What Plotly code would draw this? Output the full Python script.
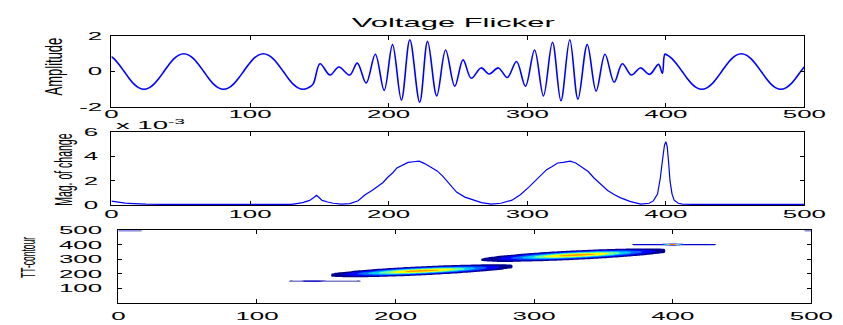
import numpy as np
import plotly.graph_objects as go

W, H = 843, 325

# ---------------- data: top panel (Voltage Flicker) ----------------
flicker_x = [0, 2.0, 5.6, 9.2, 12.7, 16.3, 19.9, 23.5, 27.1, 30.7, 34.3, 37.9, 41.4, 45.0, 48.6,
             52.2, 55.8, 59.4, 63.0, 66.6, 70.1, 73.7, 77.3, 80.9, 84.5, 88.1, 91.7, 95.3, 98.8,
             102.4, 106.0, 109.6, 113.2, 116.8, 120.4, 124.0, 127.5, 131.1, 134.7, 138.3, 141.9, 145.5,
             150.5, 157.7, 164.1, 171.9, 177.4, 183.8, 190.4, 196.8, 202.8, 209.2,
             215.3, 222.4, 228.1, 234.7, 241.1, 247.7, 253.7, 259.6, 266.7, 272.6,
             279.2, 285.6, 292.3, 298.7, 305.3, 311.7, 318.2, 324.3, 330.7, 336.6,
             343.3, 349.7, 356.1, 362.7, 368.6, 375.2, 381.7, 388.3, 394.7, 397.5,
             399.3, 401.1, 404.6, 408.2, 411.8, 415.3, 418.9, 422.4, 426.0, 429.6, 433.1, 436.7,
             440.3, 443.8, 447.4, 450.9, 454.5, 458.1, 461.6, 465.2, 468.8, 472.3, 475.9, 479.4,
             483.0, 486.6, 490.1, 493.7, 497.3, 500]
flicker_y = [0.84, 0.71, 0.38, 0, -0.38, -0.71, -0.92, -1, -0.92, -0.71, -0.38, 0, 0.38, 0.71, 0.92,
             1, 0.92, 0.71, 0.38, 0, -0.38, -0.71, -0.92, -1, -0.92, -0.71, -0.38, 0, 0.38,
             0.71, 0.92, 1, 0.92, 0.71, 0.38, 0, -0.38, -0.71, -0.92, -1, -0.92, -0.71,
             0.43, -0.2, 0.25, -0.2, 0.47, -0.65, 0.97, -1.06, 1.51, -1.6,
             1.78, -1.73, 1.69, -1.37, 1.21, -0.83, 0.65, -0.38, 0.2, -0.14,
             0.2, -0.34, 0.56, -0.83, 1.21, -1.37, 1.64, -1.64, 1.78, -1.55,
             1.51, -1.1, 0.97, -0.6, 0.43, -0.2, 0.2, -0.16, 0.4, -0.1,
             0.97, 0.92, 0.71, 0.38, 0, -0.38, -0.71, -0.92, -1, -0.92, -0.71, -0.38,
             0, 0.38, 0.71, 0.92, 1, 0.92, 0.71, 0.38, 0, -0.38, -0.71, -0.92,
             -1, -0.92, -0.71, -0.38, 0, 0.27]

# ---------------- data: middle panel (magnitude of change, x 1e-3) ----------------
mag_x = [0, 5, 10, 16, 25, 40, 130, 138, 143, 146, 148, 150, 152, 156, 160, 166, 172, 178, 183,
         188, 192, 196, 199, 203, 206, 210, 214, 218, 222, 226, 230, 235, 239, 244, 249, 255,
         261, 267, 274, 281, 289, 295, 301, 306, 310, 314, 318, 322, 326, 331, 335, 339, 344,
         348, 353, 358, 363, 367, 374, 382, 388, 391, 394, 396, 397.5, 399, 400, 401, 402,
         403, 404.5, 406, 409, 412, 420, 500]
mag_y = [0.32, 0.22, 0.16, 0.12, 0.07, 0.05, 0.05, 0.2, 0.38, 0.62, 0.8, 0.6, 0.38, 0.25, 0.15,
         0.08, 0.12, 0.35, 0.85, 1.2, 1.5, 1.85, 2.24, 2.65, 3.05, 3.3, 3.5, 3.55, 3.6, 3.4,
         3.16, 2.8, 2.37, 1.7, 1.06, 0.65, 0.4, 0.2, 0.08, 0.15, 0.4, 0.85, 1.45, 2.0, 2.5,
         2.9, 3.16, 3.45, 3.5, 3.6, 3.45, 3.16, 2.75, 2.24, 1.7, 1.19, 0.85, 0.61, 0.3, 0.08,
         0.15, 0.34, 0.9, 2.2, 3.6, 4.9, 5.2, 4.8, 3.5, 2.0, 0.9, 0.4, 0.15, 0.08, 0.06, 0.06]

# ---------------- data: bottom panel (TT-contour ridges) ----------------
ridge_x0 = [153, 261, 371, 392, 123, 133, 0, 495]
ridge_x1 = [285, 395, 430, 408, 175, 148, 16, 500]
ridge_y0 = [190, 297, 402, 402, 149, 149, 500, 500]
ridge_y1 = [250, 359, 402, 402, 149, 149, 500, 500]
ridge_amp = [0.75, 0.75, 0.28, 0.70, 0.18, 0.12, 0.30, 0.30]
ridge_center = [0.5, 0.52, 0.5, 0.5, 0.5, 0.5, 0.5, 0.5]
ridge_spread = [0.37, 0.37, 5.0, 0.3, 5.0, 0.4, 5.0, 5.0]
ridge_width = [22, 23, 4, 4, 4, 4, 6, 6]

contour_levels = dict(start=0.1, end=0.9, size=0.1)
band_colors = ['#FFFFFF', '#00008F', '#0000FF', '#0068FF', '#00CCFF', '#70FFA0',
               '#FFFF00', '#FFA000', '#FF2000', '#900000']

x_ticks = [0, 100, 200, 300, 400, 500]
y1_ticks = [-2, 0, 2]
y1_ticktext = ['-2', '0', '2']
y2_ticks = [0, 2, 4, 6]
y3_ticks = [100, 200, 300, 400, 500]

# ---------------- build contour grid ----------------
gx = np.arange(0, 501, 2.0)
gy = np.arange(0, 501, 2.0)
XX, YY = np.meshgrid(gx, gy)
Z = np.zeros_like(XX)
for x0, x1, y0, y1, amp, tc, sp, wd in zip(ridge_x0, ridge_x1, ridge_y0, ridge_y1, ridge_amp,
                                           ridge_center, ridge_spread, ridge_width):
    t = (XX - x0) / (x1 - x0)
    inside = (t >= 0) & (t <= 1)
    yc = y0 + t * (y1 - y0)
    val = amp * np.exp(-((t - tc) / sp) ** 2) * np.exp(-((YY - yc) / wd) ** 2)
    Z += np.where(inside, val, 0.0)

n_bands = len(band_colors)
colorscale = [[k / (n_bands - 1), c] for k, c in enumerate(band_colors)]

# ---------------- figure ----------------
BLUE = '#0000FF'
fig = go.Figure()
fig.add_trace(go.Scatter(x=flicker_x, y=flicker_y, mode='lines',
                         line=dict(color=BLUE, width=1.6, shape='spline', smoothing=1),
                         xaxis='x', yaxis='y', showlegend=False, hoverinfo='skip'))
fig.add_trace(go.Scatter(x=mag_x, y=mag_y, mode='lines',
                         line=dict(color=BLUE, width=1.2),
                         xaxis='x2', yaxis='y2', showlegend=False, hoverinfo='skip'))
fig.add_trace(go.Contour(x=gx, y=gy, z=Z, xaxis='x3', yaxis='y3',
                         contours=dict(coloring='fill', **contour_levels),
                         colorscale=colorscale, showscale=False,
                         line=dict(width=0), hoverinfo='skip'))

FONT = 'Liberation Sans, Arial, sans-serif'
common = dict(showline=True, linecolor='black', linewidth=1, mirror='ticks', ticks='inside',
              ticklen=4, tickwidth=1.2, tickcolor='black', showgrid=False, zeroline=False,
              tickfont=dict(family=FONT, size=11, color='black'))


def px_x(p):
    return p / W


def px_y(p):
    return 1 - p / H


fig.update_layout(
    width=W, height=H, margin=dict(l=0, r=0, t=0, b=0),
    paper_bgcolor='white', plot_bgcolor='white', showlegend=False,
    xaxis=dict(domain=[px_x(110), px_x(813)], anchor='y', range=[0, 500], tickvals=x_ticks,
               ticklabelstandoff=-3, **common),
    yaxis=dict(domain=[px_y(105), px_y(31)], anchor='x', range=[-2, 2], tickvals=y1_ticks,
               ticktext=y1_ticktext, ticklabelstandoff=6, **common),
    xaxis2=dict(domain=[px_x(110), px_x(813)], anchor='y2', range=[0, 500], tickvals=x_ticks,
                ticklabelstandoff=-1, **common),
    yaxis2=dict(domain=[px_y(206.7), px_y(130.7)], anchor='x2', range=[0, 6], tickvals=y2_ticks,
                ticklabelstandoff=10, **common),
    xaxis3=dict(domain=[px_x(117), px_x(820)], anchor='y3', range=[0, 500], tickvals=x_ticks,
                ticklabelstandoff=3, **common),
    yaxis3=dict(domain=[px_y(308), px_y(233)], anchor='x3', range=[0, 500], tickvals=y3_ticks,
                ticklabelstandoff=13, **common),
    annotations=[
        dict(text='Voltage Flicker', x=px_x(457.5), y=px_y(17.5), xref='paper', yref='paper',
             xanchor='center', yanchor='middle', showarrow=False, font=dict(family=FONT, size=12, color='black')),
        dict(text='Amplitude', x=px_x(51), y=px_y(62.5), xref='paper', yref='paper', textangle=-90,
             xanchor='center', yanchor='middle', showarrow=False, font=dict(family=FONT, size=13, color='black')),
        dict(text='Mag. of change', x=px_x(60), y=px_y(170), xref='paper', yref='paper', textangle=-90,
             xanchor='center', yanchor='middle', showarrow=False, font=dict(family=FONT, size=10.5, color='black')),
        dict(text='TT-contour', x=px_x(26), y=px_y(261), xref='paper', yref='paper', textangle=-90,
             xanchor='center', yanchor='middle', showarrow=False, font=dict(family=FONT, size=8.5, color='black')),
        dict(text='x 10<sup>-3</sup>', x=px_x(113), y=px_y(122.5), xref='paper', yref='paper',
             xanchor='left', yanchor='middle', showarrow=False, font=dict(family=FONT, size=11, color='black')),
    ],
)

post = r"""
var gd = document.getElementById('{plot_id}');
function st(el, sx, sy, mode){
  var bb = el.getBBox();
  var ax = mode==='l' ? bb.x : (mode==='r' ? bb.x + bb.width : bb.x + bb.width/2);
  var ay = bb.y + bb.height/2;
  var t = el.getAttribute('transform') || '';
  el.setAttribute('transform', t + ' translate(' + ax + ',' + ay + ') scale(' + sx + ',' + sy + ') translate(' + (-ax) + ',' + (-ay) + ')');
}
gd.querySelectorAll('.xaxislayer-above text').forEach(function(e){ st(e, 2.35, 1, 'c'); });
gd.querySelectorAll('.yaxislayer-above text').forEach(function(e){ st(e, 2.35, 1, 'r'); });
gd.querySelectorAll('.annotation-text').forEach(function(e){
  var s = e.textContent;
  if (s === 'Voltage Flicker') st(e, 2.58, 1, 'c');
  else if (s.indexOf('x 10') === 0) st(e, 2.5, 1, 'l');
  else if (s === 'Amplitude') st(e, 1, 1.8, 'c');
  else if (s === 'Mag. of change') st(e, 1, 2.3, 'c');
  else if (s === 'TT-contour') st(e, 1, 2.4, 'c');
});
"""

fig.write_html("out.html", post_script=post)
